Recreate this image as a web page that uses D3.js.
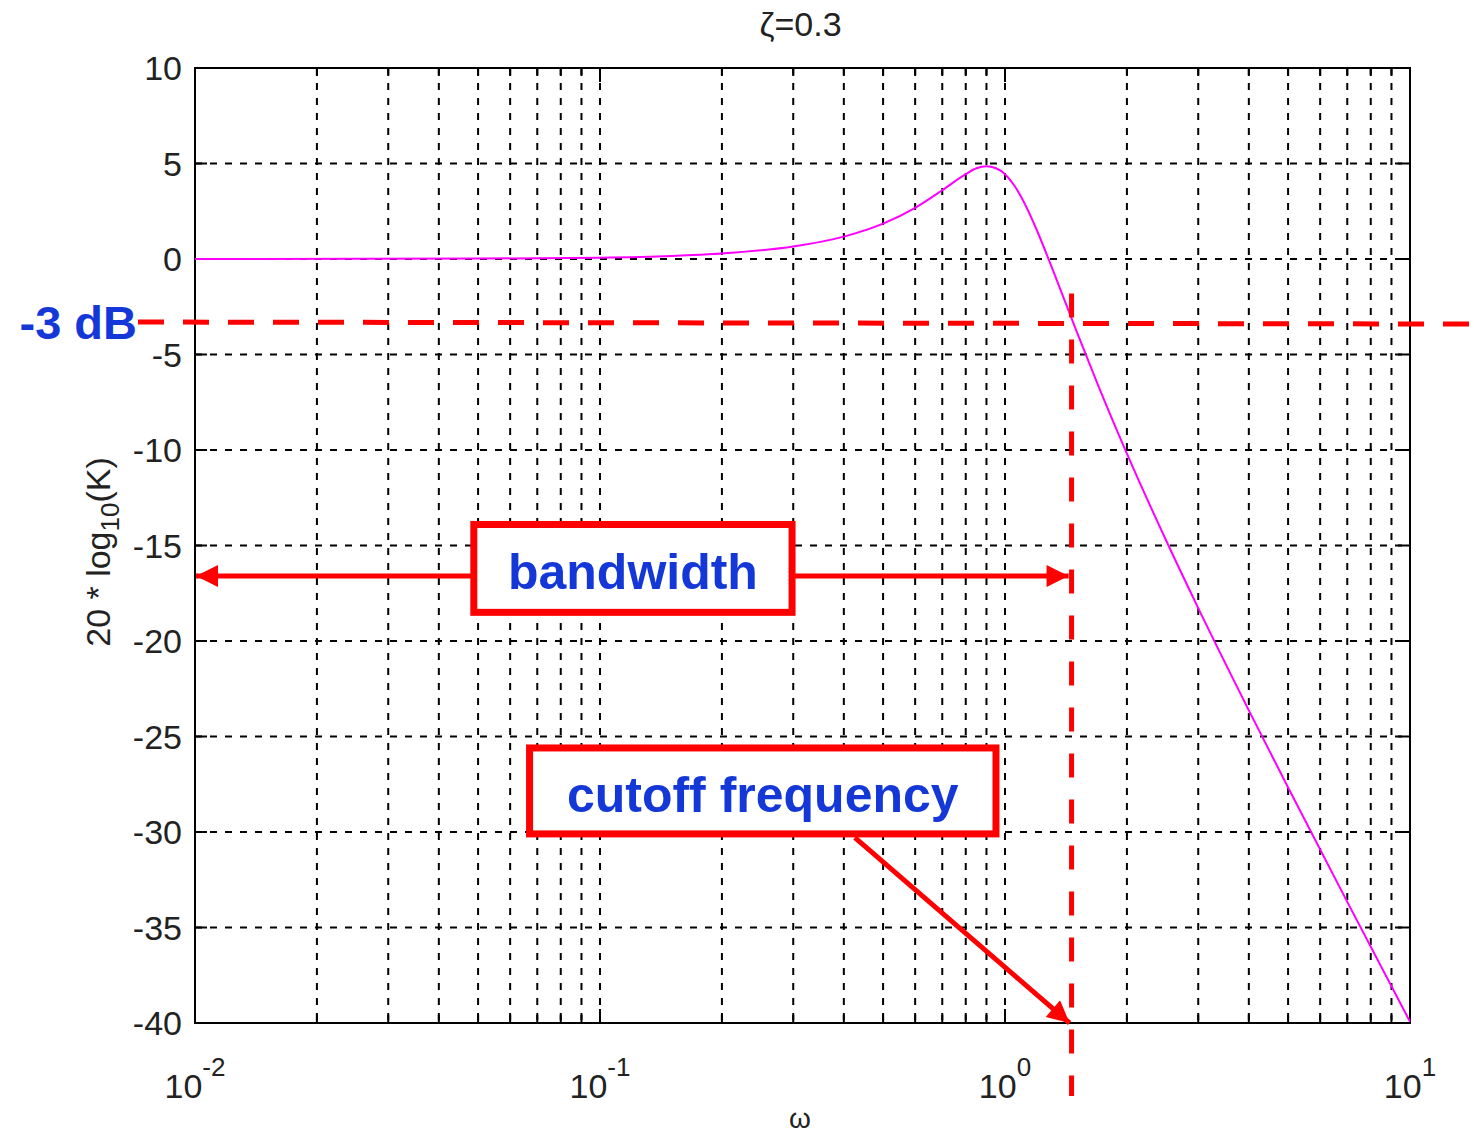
<!DOCTYPE html>
<html>
<head>
<meta charset="utf-8">
<script src="https://cdn.jsdelivr.net/npm/d3@7"></script>
<style>
  body { margin: 0; background: #fff; }
  svg { display: block; }
  .tick-label { font-family: "Liberation Sans", Arial, sans-serif; font-size: 34px; fill: #222; }
  .note { font-family: "Liberation Sans", Arial, sans-serif; font-size: 50px; font-weight: bold; fill: #1438d8; }
</style>
</head>
<body>
<div id="chart"></div>
<script>
// magnitude response
const omega = [0.01, 0.05, 0.1, 0.15, 0.2, 0.3, 0.4, 0.5, 0.6, 0.7, 0.8, 0.85, 0.9, 0.95, 1.0, 1.05, 1.1, 1.2, 1.3, 1.4, 1.5, 1.7, 2, 2.5, 3, 4, 5, 7, 10];
const gainDb = [0, 0.02, 0.07, 0.16, 0.29, 0.65, 1.17, 1.85, 2.68, 3.6, 4.44, 4.75, 4.85, 4.75, 4.44, 3.9, 3.19, 1.48, -0.35, -2.11, -3.75, -6.64, -10.19, -14.74, -18.28, -23.63, -27.67, -33.66, -39.93];

const yTicks = [10, 5, 0, -5, -10, -15, -20, -25, -30, -35, -40];
const xDecades = [-2, -1, 0, 1];
const titleText = "ζ=0.3";

// annotation values
const cutoffW = 1.46;
const cutoffDb = -3.3;
const bandwidthDb = -16.6;
const bandwidthBox = { w0: 0.0488, w1: 0.298, db0: -13.9, db1: -18.5 };
const cutoffBox = { w0: 0.067, w1: 0.95, db0: -25.6, db1: -30.1 };
const cutoffArrowFrom = { w: 0.426, db: -30.3 };

const width = 1474, height = 1136;
const margin = { top: 68, right: 64, bottom: 113, left: 195 };
const plotW = width - margin.left - margin.right;
const plotH = height - margin.top - margin.bottom;

const svg = d3.select('#chart')
    .append('svg')
    .attr('width', width)
    .attr('height', height);

const defs = svg.append('defs');
defs.append('marker')
    .attr('id', 'arrow')
    .attr('viewBox', '0 0 10 10')
    .attr('refX', 10)
    .attr('refY', 5)
    .attr('markerUnits', 'userSpaceOnUse')
    .attr('markerWidth', 32)
    .attr('markerHeight', 22)
    .attr('orient', 'auto')
    .append('path')
    .attr('d', 'M0,0L10,5L0,10z')
    .attr('fill', '#ff0000');

const x = d3.scaleLog().domain([0.01, 10]).range([margin.left, margin.left + plotW]);
const y = d3.scaleLinear().domain([-40, 10]).range([margin.top + plotH, margin.top]);

// minor + major x grid values
const xGrid = [];
xDecades.forEach(p => {
    for (let m = 1; m <= 9; m++) {
        const v = m * Math.pow(10, p);
        if (v <= 10) xGrid.push(v);
    }
});

const grid = svg.append('g');
grid.selectAll('.xg')
    .data(xGrid.filter(v => v > 0.01 && v < 10))
    .enter()
    .append('line')
    .attr('x1', d => x(d)).attr('x2', d => x(d))
    .attr('y1', margin.top).attr('y2', margin.top + plotH)
    .attr('stroke', '#000')
    .attr('stroke-width', 2)
    .attr('stroke-dasharray', '7,8');

grid.selectAll('.yg')
    .data(yTicks.filter(v => v > -40 && v < 10))
    .enter()
    .append('line')
    .attr('x1', margin.left).attr('x2', margin.left + plotW)
    .attr('y1', d => y(d)).attr('y2', d => y(d))
    .attr('stroke', '#000')
    .attr('stroke-width', 2)
    .attr('stroke-dasharray', '7,8');

// inner ticks on all four sides
const ticks = svg.append('g').attr('stroke', '#000').attr('stroke-width', 2);
xGrid.forEach(v => {
    const len = Math.abs(Math.log10(v) - Math.round(Math.log10(v))) < 1e-9 ? 14 : 8;
    ticks.append('line').attr('x1', x(v)).attr('x2', x(v)).attr('y1', y(-40)).attr('y2', y(-40) - len);
    ticks.append('line').attr('x1', x(v)).attr('x2', x(v)).attr('y1', y(10)).attr('y2', y(10) + len);
});
yTicks.forEach(v => {
    ticks.append('line').attr('x1', x(0.01)).attr('x2', x(0.01) + 12).attr('y1', y(v)).attr('y2', y(v));
    ticks.append('line').attr('x1', x(10)).attr('x2', x(10) - 12).attr('y1', y(v)).attr('y2', y(v));
});

// frame
svg.append('rect')
    .attr('x', margin.left).attr('y', margin.top)
    .attr('width', plotW).attr('height', plotH)
    .attr('fill', 'none')
    .attr('stroke', '#000')
    .attr('stroke-width', 2);

// y tick labels
svg.selectAll('.ylab')
    .data(yTicks)
    .enter()
    .append('text')
    .attr('class', 'tick-label')
    .attr('x', margin.left - 13)
    .attr('y', d => y(d))
    .attr('dy', '0.36em')
    .attr('text-anchor', 'end')
    .text(d => d);

// x tick labels 10^p
const xl = svg.selectAll('.xlab')
    .data(xDecades)
    .enter()
    .append('text')
    .attr('class', 'tick-label')
    .attr('x', d => x(Math.pow(10, d)))
    .attr('y', 1098)
    .attr('text-anchor', 'middle');
xl.append('tspan').text('10');
xl.append('tspan')
    .attr('dy', -22)
    .style('font-size', '26px')
    .text(d => d < 0 ? '-' + (-d) : d);

// title and axis labels
svg.append('text')
    .attr('class', 'tick-label')
    .attr('x', x(0.01) + plotW / 2 - 2)
    .attr('y', 36)
    .attr('text-anchor', 'middle')
    .text(titleText);

svg.append('text')
    .attr('class', 'tick-label')
    .style('font-size', '28px')
    .attr('x', 800)
    .attr('y', 1128)
    .attr('text-anchor', 'middle')
    .text('ω');

const ylabel = svg.append('text')
    .attr('class', 'tick-label')
    .attr('transform', 'translate(110,552) rotate(-90)')
    .attr('text-anchor', 'middle');
ylabel.append('tspan').text('20 * log');
ylabel.append('tspan').attr('dy', 9).style('font-size', '26px').text('10');
ylabel.append('tspan').attr('dy', -9).text('(K)');

// response curve
const pts = omega.map((w, i) => [w, gainDb[i]]);
svg.append('path')
    .datum(pts)
    .attr('fill', 'none')
    .attr('stroke', '#ff00ff')
    .attr('stroke-width', 2)
    .attr('d', d3.line()
        .x(d => x(d[0]))
        .y(d => y(d[1]))
        .curve(d3.curveMonotoneX));

// -3 dB line and cutoff line
svg.append('line')
    .attr('x1', 138).attr('x2', width)
    .attr('y1', y(cutoffDb)).attr('y2', y(cutoffDb) + 2)
    .attr('stroke', '#ff0000')
    .attr('stroke-width', 5)
    .attr('stroke-dasharray', '26,19');

svg.append('line')
    .attr('x1', x(cutoffW)).attr('x2', x(cutoffW))
    .attr('y1', y(-1.8)).attr('y2', 1096)
    .attr('stroke', '#ff0000')
    .attr('stroke-width', 5)
    .attr('stroke-dasharray', '24,22');

svg.append('text')
    .attr('class', 'note')
    .style('font-size', '47px')
    .attr('x', 137)
    .attr('y', y(cutoffDb))
    .attr('dy', '0.36em')
    .attr('text-anchor', 'end')
    .text('-3 dB');

// bandwidth arrows and box
const arrows = svg.append('g')
    .attr('stroke', '#ff0000')
    .attr('stroke-width', 5)
    .attr('fill', 'none');
arrows.append('line')
    .attr('x1', x(bandwidthBox.w0)).attr('x2', x(0.01) + 1)
    .attr('y1', y(bandwidthDb)).attr('y2', y(bandwidthDb))
    .attr('marker-end', 'url(#arrow)');
arrows.append('line')
    .attr('x1', x(bandwidthBox.w1)).attr('x2', x(cutoffW) - 3)
    .attr('y1', y(bandwidthDb)).attr('y2', y(bandwidthDb))
    .attr('marker-end', 'url(#arrow)');
arrows.append('line')
    .attr('x1', x(cutoffArrowFrom.w)).attr('x2', x(cutoffW) - 2)
    .attr('y1', y(cutoffArrowFrom.db)).attr('y2', y(-40))
    .attr('marker-end', 'url(#arrow)');

function noteBox(b, label) {
    const x0 = x(b.w0), x1 = x(b.w1), y0 = y(b.db0), y1 = y(b.db1);
    svg.append('rect')
        .attr('x', x0).attr('y', y0)
        .attr('width', x1 - x0).attr('height', y1 - y0)
        .attr('fill', '#fff')
        .attr('stroke', '#ff0000')
        .attr('stroke-width', 7);
    svg.append('text')
        .attr('class', 'note')
        .attr('x', (x0 + x1) / 2)
        .attr('y', (y0 + y1) / 2)
        .attr('dy', '0.42em')
        .attr('text-anchor', 'middle')
        .text(label);
}
noteBox(bandwidthBox, 'bandwidth');
noteBox(cutoffBox, 'cutoff frequency');
</script>
</body>
</html>
